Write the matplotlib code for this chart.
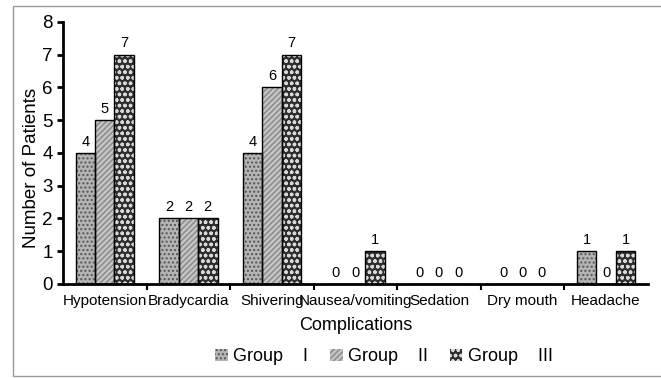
import numpy as np
import matplotlib.pyplot as plt
from matplotlib.patches import Rectangle

plt.rcParams['font.family'] = ['Liberation Sans', 'DejaVu Sans']

categories = ['Hypotension', 'Bradycardia', 'Shivering', 'Nausea/vomiting',
              'Sedation', 'Dry mouth', 'Headache']
group_1 = [4, 2, 4, 0, 0, 0, 1]
group_2 = [5, 2, 6, 0, 0, 0, 0]
group_3 = [7, 2, 7, 1, 0, 0, 1]
group_labels = ['Group    I', 'Group    II', 'Group    III']

series = [group_1, group_2, group_3]
faces = ['#b4b4b4', '#c4c4c4', '#2e2e2e']
hatch_cols = ['#555555', '#888888', '#d8d8d8']
hatches = ['....', '//////', 'ooo']

fig = plt.figure(figsize=(6.61, 3.78), dpi=100)
fig.patches.append(Rectangle((13 / 661, 2 / 378), 1.0, 1 - 8 / 378,
                             transform=fig.transFigure, fill=False,
                             edgecolor='#9a9a9a', linewidth=1.0))
ax = fig.add_axes([0.0953, 0.2487, 0.8847, 0.6933])

x = np.arange(len(categories))
w = 0.233
handles = []
for i, vals in enumerate(series):
    pos = x + (i - 1) * w
    ax.bar(pos, vals, w, color=faces[i], edgecolor=hatch_cols[i],
           hatch=hatches[i], linewidth=0, zorder=2)
    ax.bar(pos, vals, w, facecolor='none', edgecolor='black',
           linewidth=1.0, zorder=3)
    for p, v in zip(pos, vals):
        ax.text(p, v + 0.13, str(v), ha='center', va='bottom', fontsize=10.5)
    handles.append(Rectangle((0, 0), 1, 1, facecolor=faces[i],
                             edgecolor=hatch_cols[i], hatch=hatches[i],
                             linewidth=0))

ax.set_xlim(-0.5, len(categories) - 0.5)
ax.set_ylim(0, 8)
ax.set_yticks(range(0, 9))
ax.tick_params(axis='y', labelsize=13.5, length=4, width=2)
ax.set_xticks(x)
ax.set_xticklabels(categories, fontsize=11)
ax.tick_params(axis='x', length=0, pad=7)
ax.set_xticks(np.arange(0.5, len(categories) - 0.5), minor=True)
ax.tick_params(axis='x', which='minor', length=4, width=1.5)
for s in ['top', 'right']:
    ax.spines[s].set_visible(False)
ax.spines['left'].set_linewidth(2)
ax.spines['bottom'].set_linewidth(2)
ax.set_ylabel('Number of Patients', fontsize=13.5)
ax.yaxis.set_label_coords(-0.040, 0.443)
ax.set_xlabel('Complications', fontsize=13, labelpad=7)

fig.legend(handles, group_labels, loc='center', ncol=3,
           bbox_to_anchor=(0.581, 0.056), frameon=False, fontsize=13,
           handlelength=0.7, handleheight=0.7, handletextpad=0.3,
           columnspacing=1.2)

fig.savefig('out.png', dpi=100)
